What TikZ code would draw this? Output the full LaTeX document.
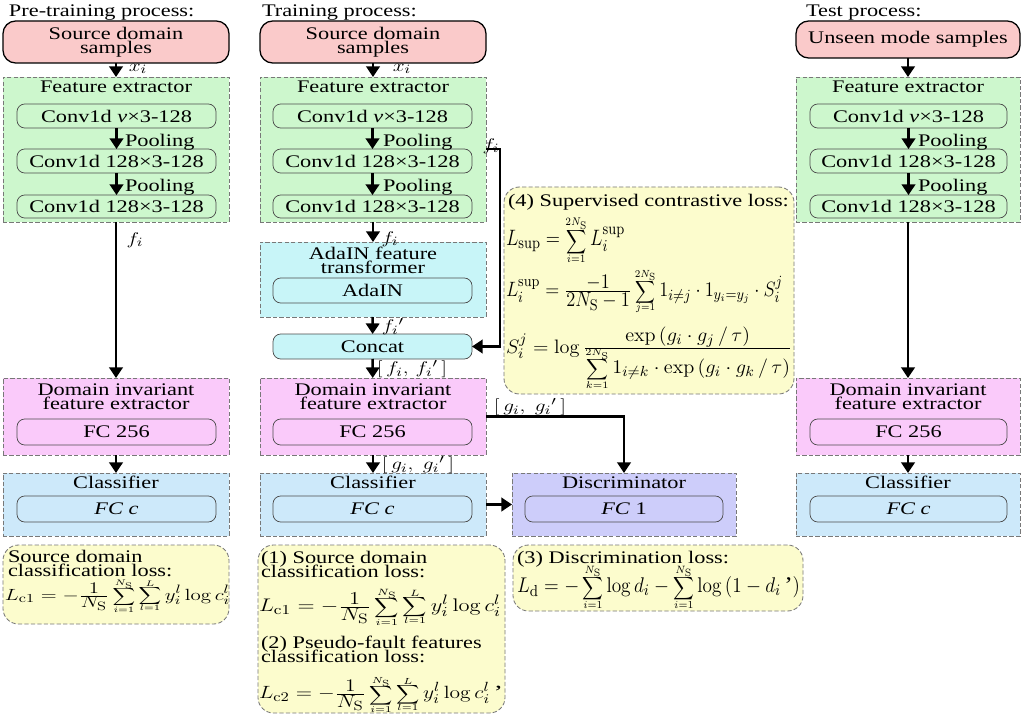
\documentclass[tikz,border=0pt]{standalone}
\usepackage[no-math]{fontspec}
\setmainfont{Liberation Serif}[FakeStretch=1.26]
\setmathrm{Liberation Serif}
\usepackage{graphicx}
\usetikzlibrary{arrows.meta,fit}
\definecolor{cpink}{RGB}{250,202,202}
\definecolor{cgreen}{RGB}{205,247,205}
\definecolor{ccyan}{RGB}{200,245,248}
\definecolor{cmag}{RGB}{250,202,250}
\definecolor{cblue}{RGB}{205,233,250}
\definecolor{cviolet}{RGB}{205,205,250}
\definecolor{cyel}{RGB}{252,252,205}
\definecolor{cedge}{RGB}{120,120,120}
\newlength\px
\setlength\px{0.7113pt}
\newcommand{\W}[1]{\scalebox{1.26}[1]{#1}}
\newcommand{\F}[3]{\resizebox*{#1\px}{#2\px}{#3}}
\newcommand{\bsum}[2]{\mathop{\vcenter{\offinterlineskip\halign{\hfil##\hfil\cr
  $\scriptscriptstyle#2$\cr\noalign{\kern-0.5pt}
  \hbox{\scalebox{0.9}{$\displaystyle\sum$}}\cr\noalign{\kern-0.3pt}
  $\scriptscriptstyle#1$\cr}}}}
\newcommand{\tf}[2]{{\textstyle\frac{\displaystyle#1}{\displaystyle#2}}}
\begin{document}
\begin{tikzpicture}[x=0.025cm,y=-0.025cm,
  font=\fontsize{12.6}{10}\selectfont,
  every node/.style={inner sep=0pt, outer sep=0pt},
  cont/.style={draw=cedge, dash pattern=on 3pt off 1.6pt, line width=0.6pt},
  inb/.style={draw=black!70, line width=0.5pt, rounded corners=5.5pt},
  srcb/.style={draw=black, line width=0.9pt, rounded corners=9pt, fill=cpink},
  lossb/.style={draw=cedge, dash pattern=on 3pt off 1.6pt, line width=0.6pt, rounded corners=11pt, fill=cyel},
  arr/.style={line width=1.8pt, -{Triangle[length=7.5pt,width=9.5pt]}},
  ttl/.style={anchor=base},
  lbl/.style={anchor=center},
  bw/.style={anchor=base west},
  fw/.style={anchor=north west},
]
\fill[white] (0,0) rectangle (1024,715);
\useasboundingbox (0,0) rectangle (1024,715);

% ---------------- column 1: pre-training ----------------
\node[bw] (t1) at (9,17) {Pre-training process:};
\node[srcb, fit={(3,21)(229,63)}] (src1) {};
\node[align=center] (src1t) at (src1.center) {Source domain\\samples};
\node[cont, fill=cgreen, fit={(3,77)(229,222)}] (fe1) {};
\node[ttl] (fe1t) at (116,93) {Feature extractor};
\node[inb, fill=cgreen, fit={(17,104)(216,128)}] (c11) {};
\node[inb, fill=cgreen, fit={(17,149)(216,173)}] (c12) {};
\node[inb, fill=cgreen, fit={(17,195)(216,218)}] (c13) {};
\node (c11t) at (c11.center) {Conv1d \textit{v}×3-128};
\node (c12t) at (c12.center) {Conv1d 128×3-128};
\node (c13t) at (c13.center) {Conv1d 128×3-128};
\node[bw] (p11) at (125,147) {Pooling};
\node[bw] (p12) at (125,192) {Pooling};
\node[cont, fill=cmag, fit={(3,378)(229,455)}] (dom1) {};
\node[lbl, align=center] (dom1t) at (116,397) {Domain invariant\\feature extractor};
\node[inb, fill=cmag, fit={(17,419)(216,445)}] (fc11) {};
\node (fc11t) at (fc11.center) {FC 256};
\node[cont, fill=cblue, fit={(3,473)(229,536)}] (cls1) {};
\node[ttl] (cls1t) at (116,488) {Classifier};
\node[inb, fill=cblue, fit={(17,496)(216,522)}] (fcc1) {};
\node (fcc1t) at (fcc1.center) {\textit{FC c}};
\node[lossb, fit={(3,545)(229,624)}] (loss1) {};
\node[bw] (loss1a) at (8,562) {Source domain};
\node[bw] (loss1b) at (8,576) {classification loss:};
\node[fw] (loss1f) at (5,580) {\F{225}{32}{$\displaystyle L_{\mathrm{c1}}=-\tf{1}{N_{\mathrm S}}\bsum{i=1}{N_{\mathrm S}}\bsum{l=1}{L}y_i^l\log c_i^l$}};
\node[lbl] (x1) at (138,69) {\W{$x_i$}};
\node[lbl] (f1) at (135,240) {\W{$f_i$}};

% ---------------- column 2: training ----------------
\node[bw] (t2) at (262,17) {Training process:};
\node[srcb, fit={(260,21)(486,63)}] (src2) {};
\node[align=center] (src2t) at (src2.center) {Source domain\\samples};
\node[cont, fill=cgreen, fit={(260,77)(486,222)}] (fe2) {};
\node[ttl] (fe2t) at (373,93) {Feature extractor};
\node[inb, fill=cgreen, fit={(273,104)(472,128)}] (c21) {};
\node[inb, fill=cgreen, fit={(273,149)(472,173)}] (c22) {};
\node[inb, fill=cgreen, fit={(273,195)(472,218)}] (c23) {};
\node (c21t) at (c21.center) {Conv1d \textit{v}×3-128};
\node (c22t) at (c22.center) {Conv1d 128×3-128};
\node (c23t) at (c23.center) {Conv1d 128×3-128};
\node[bw] (p21) at (383,147) {Pooling};
\node[bw] (p22) at (383,192) {Pooling};
\node[cont, fill=ccyan, fit={(260,242)(486,317)}] (ada) {};
\node[lbl, align=center] (adat) at (373,260) {AdaIN feature\\transformer};
\node[inb, fill=ccyan, fit={(273,278)(472,303)}] (adain) {};
\node (adaint) at (adain.center) {AdaIN};
\node[inb, fill=ccyan, fit={(273,334)(472,359)}] (concat) {};
\node (concatt) at (concat.center) {Concat};
\node[cont, fill=cmag, fit={(260,378)(486,455)}] (dom2) {};
\node[lbl, align=center] (dom2t) at (373,397) {Domain invariant\\feature extractor};
\node[inb, fill=cmag, fit={(273,419)(472,445)}] (fc21) {};
\node (fc21t) at (fc21.center) {FC 256};
\node[cont, fill=cblue, fit={(260,473)(486,536)}] (cls2) {};
\node[ttl] (cls2t) at (373,488) {Classifier};
\node[inb, fill=cblue, fit={(273,496)(472,522)}] (fcc2) {};
\node (fcc2t) at (fcc2.center) {\textit{FC c}};
\node[cont, fill=cviolet, fit={(512,473)(736,536)}] (disc) {};
\node[ttl] (disct) at (624,488) {Discriminator};
\node[inb, fill=cviolet, fit={(525,496)(723,522)}] (fcd) {};
\node (fcdt) at (fcd.center) {\textit{FC} 1};

\node[lbl] (x2) at (402,69) {\W{$x_i$}};
\node[lbl] (f2) at (390,239) {\W{$f_i$}};
\node[lbl] (f2b) at (491,146) {\W{$f_i$}};
\node[lbl] (f2p) at (393,327) {\W{$f_i{}'$}};
\node[lbl] (ff) at (412,369) {\W{$[\,f_i,\,f_i{}'\,]$}};
\node[lbl] (gg1) at (530,407) {\W{$[\,g_i,\;g_i{}'\,]$}};
\node[lbl] (gg2) at (418,465) {\W{$[\,g_i,\;g_i{}'\,]$}};

% supervised contrastive loss
\node[lossb, fit={(504,187)(794,394)}] (sup) {};
\node[bw] (supt) at (508,207) {(4) Supervised contrastive loss:};
\node[fw] (sup1) at (506,218) {\F{119}{44}{$\displaystyle L_{\mathrm{sup}}=\bsum{i=1}{2N_{\mathrm S}}L_i^{\mathrm{sup}}$}};
\node[fw] (sup2) at (506,270) {\F{277}{43}{$\displaystyle L_i^{\mathrm{sup}}=\tf{-1}{2N_{\mathrm S}-1}\bsum{j=1}{2N_{\mathrm S}}1_{i\neq j}\cdot 1_{y_i=y_j}\cdot S_i^j$}};
\node[fw] (sup3) at (506,327) {\F{286}{61}{$\displaystyle S_i^j=\log\tf{\exp\left(g_i\cdot g_j\,/\,\tau\right)}{\bsum{k=1}{2N_{\mathrm S}}1_{i\neq k}\cdot\exp\left(g_i\cdot g_k\,/\,\tau\right)}$}};

% losses (1)(2)
\node[lossb, fit={(258,545)(505,713)}] (loss2) {};
\node[bw] (loss2a) at (261,563) {(1) Source domain};
\node[bw] (loss2b) at (261,577) {classification loss:};
\node[fw] (loss2f) at (259,589) {\F{242}{36}{$\displaystyle L_{\mathrm{c1}}=-\tf{1}{N_{\mathrm S}}\bsum{i=1}{N_{\mathrm S}}\bsum{l=1}{L}y_i^l\log c_i^l$}};
\node[bw] (loss2c) at (261,648) {(2) Pseudo-fault features};
\node[bw] (loss2d) at (261,662) {classification loss:};
\node[fw] (loss2g) at (259,677) {\F{244}{35}{$\displaystyle L_{\mathrm{c2}}=-\tf{1}{N_{\mathrm S}}\bsum{i=1}{N_{\mathrm S}}\bsum{l=1}{L}y_i^l\log c_i^l\,\mbox{'}$}};

% loss (3)
\node[lossb, fit={(513,545)(803,611)}] (loss3) {};
\node[bw] (loss3a) at (517,563) {(3) Discrimination loss:};
\node[fw] (loss3b) at (517,566) {\F{283}{42}{$\displaystyle L_{\mathrm d}=-\bsum{i=1}{N_{\mathrm S}}\log d_i-\bsum{i=1}{N_{\mathrm S}}\log\left(1-d_i\,\mbox{'}\right)$}};

% ---------------- column 3: test ----------------
\node[bw] (t3) at (806,17) {Test process:};
\node[srcb, fit={(796,21)(1020,58)}] (src3) {};
\node (src3t) at (src3.center) {Unseen mode samples};
\node[cont, fill=cgreen, fit={(796,77)(1020,222)}] (fe3) {};
\node[ttl] (fe3t) at (908,93) {Feature extractor};
\node[inb, fill=cgreen, fit={(810,104)(1007,128)}] (c31) {};
\node[inb, fill=cgreen, fit={(810,149)(1007,173)}] (c32) {};
\node[inb, fill=cgreen, fit={(810,195)(1007,218)}] (c33) {};
\node (c31t) at (c31.center) {Conv1d \textit{v}×3-128};
\node (c32t) at (c32.center) {Conv1d 128×3-128};
\node (c33t) at (c33.center) {Conv1d 128×3-128};
\node[bw] (p31) at (918,147) {Pooling};
\node[bw] (p32) at (918,192) {Pooling};
\node[cont, fill=cmag, fit={(796,378)(1020,455)}] (dom3) {};
\node[lbl, align=center] (dom3t) at (908,397) {Domain invariant\\feature extractor};
\node[inb, fill=cmag, fit={(810,419)(1007,445)}] (fc31) {};
\node (fc31t) at (fc31.center) {FC 256};
\node[cont, fill=cblue, fit={(796,473)(1020,536)}] (cls3) {};
\node[ttl] (cls3t) at (908,488) {Classifier};
\node[inb, fill=cblue, fit={(810,496)(1007,522)}] (fcc3) {};
\node (fcc3t) at (fcc3.center) {\textit{FC c}};

% ---------------- connectors ----------------
\draw[arr] (src1) -- (fe1);
\draw[arr] (c11) -- (c12);
\draw[arr] (c12) -- (c13);
\draw[arr] (fe1) -- (dom1);
\draw[arr] (dom1) -- (cls1);

\draw[arr] (src2) -- (fe2);
\draw[arr] (c21) -- (c22);
\draw[arr] (c22) -- (c23);
\draw[arr] (fe2) -- (ada);
\draw[arr] (ada) -- (concat);
\draw[arr] (concat) -- (dom2);
\draw[arr] (dom2) -- (cls2);
\draw[arr] (fe2.east |- c22.north) -- ++(14,0) |- (concat.east);
\draw[arr] (dom2.east) -| (disc.north);
\draw[arr] (cls2.east) -- (disc.west);

\draw[arr] (src3) -- (fe3);
\draw[arr] (c31) -- (c32);
\draw[arr] (c32) -- (c33);
\draw[arr] (fe3) -- (dom3);
\draw[arr] (dom3) -- (cls3);
\end{tikzpicture}
\end{document}
